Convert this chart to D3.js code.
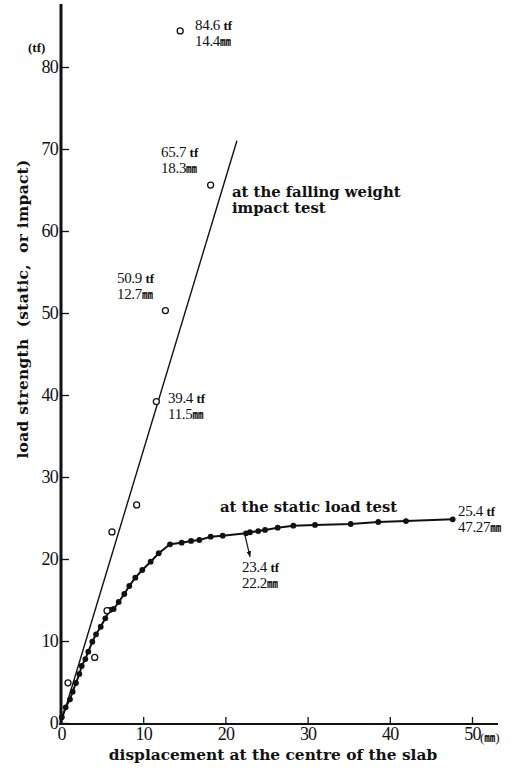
<!DOCTYPE html>
<meta charset="utf-8">
<html>
<head>
  <style>
    body { margin: 0; background: #fff; }
    svg { width: 515px; height: 768px; display: block; }
    text { font-family: 'Liberation Serif', 'Times New Roman', serif; fill: #111; }
    .note { font-size: 15px; }
    .unit { font-family: 'Noto Sans CJK JP', sans-serif; font-size: 11px; font-weight: bold; }
    .caption { font-family: 'DejaVu Serif', serif; font-size: 14.8px; font-weight: bold; }
  </style>
  <script src="https://d3js.org/d3.v7.min.js"></script>
</head>
<body>
  <svg></svg>
  <script>
    // displacement (mm) and load (tf), static load test
    var staticDisp = [0.1, 0.57, 1.09, 1.42, 1.82, 2.23, 2.52, 2.96, 3.32, 3.81, 4.26, 4.83, 5.39, 5.96, 6.4,
      7.02, 7.7, 8.31, 9.04, 9.89, 10.91, 11.89, 13.26, 14.68, 15.82, 16.83, 18.21, 19.67,
      22.51, 22.99, 24.0, 24.82, 26.36, 28.26, 30.9, 35.24, 38.6, 41.97, 47.65];
    var staticLoad = [0.7, 1.91, 2.89, 3.82, 4.88, 5.98, 6.95, 7.8, 8.7, 9.91, 10.82, 11.74, 12.77, 13.78, 13.9,
      14.76, 15.73, 16.71, 17.72, 18.66, 19.67, 20.7, 21.79, 21.99, 22.2, 22.32, 22.72, 22.84,
      23.13, 23.26, 23.41, 23.54, 23.82, 24.06, 24.15, 24.27, 24.51, 24.63, 24.84];

    // falling weight impact test
    var impactDisp = [0.85, 4.1, 5.6, 6.2, 9.2, 11.6, 12.7, 18.2, 14.5];
    var impactLoad = [4.9, 8.0, 13.7, 23.3, 26.6, 39.2, 50.3, 65.6, 84.4];

    // straight line drawn through the impact results
    var impactFitDisp = [0, 21.4];
    var impactFitLoad = [0, 71];

    var xTicks = [0, 10, 20, 30, 40, 50];
    var yTicks = [0, 10, 20, 30, 40, 50, 60, 70, 80];

    var svg = d3.select("svg");

    var x = d3.scaleLinear().domain([0, 50]).range([61, 472]);
    var y = d3.scaleLinear().domain([0, 80]).range([723, 67]);

    // axis lines, heavier than the ticks
    svg.append("line")
      .attr("x1", x(0)).attr("x2", x(0))
      .attr("y1", y(0) + 2).attr("y2", 4)
      .attr("stroke", "#111").attr("stroke-width", 3);
    svg.append("line")
      .attr("x1", x(0) - 2).attr("x2", 498)
      .attr("y1", y(0) + 1).attr("y2", y(0) + 1)
      .attr("stroke", "#111").attr("stroke-width", 2);

    // ticks point inward
    var yAxis = svg.append("g")
      .attr("transform", "translate(" + x(0) + ",0)")
      .call(d3.axisLeft(y).tickValues(yTicks).tickSize(-8).tickPadding(3));
    var xAxis = svg.append("g")
      .attr("transform", "translate(0," + (y(0) + 1) + ")")
      .call(d3.axisBottom(x).tickValues(xTicks).tickSize(-7).tickPadding(3));

    [yAxis, xAxis].forEach(function(a) {
      a.select(".domain").remove();
      a.attr("font-family", null).attr("font-size", null);
      a.selectAll(".tick line").attr("stroke", "#111").attr("stroke-width", 1.3);
      a.selectAll(".tick text")
        .attr("fill", "#111")
        .style("font-family", "'Liberation Serif', serif")
        .style("font-size", "18px")
        .style("letter-spacing", "-0.8px");
    });

    // unit labels
    svg.append("text")
      .attr("x", 28).attr("y", 52)
      .style("font-size", "13px").style("font-weight", "bold")
      .text("(tf)");
    var mm = svg.append("text")
      .attr("x", 480).attr("y", 742)
      .style("font-size", "13px");
    mm.append("tspan").text("(");
    mm.append("tspan").attr("class", "unit").text("㎜");
    mm.append("tspan").text(")");

    // axis titles
    svg.append("text")
      .attr("class", "caption")
      .attr("x", 273).attr("y", 760)
      .attr("text-anchor", "middle")
      .style("font-size", "15.4px")
      .text("displacement at the centre of the slab");

    svg.append("text")
      .attr("class", "caption")
      .attr("transform", "translate(28,309) rotate(-90)")
      .attr("text-anchor", "middle")
      .style("font-size", "15.4px")
      .style("letter-spacing", "0.3px")
      .text("load strength\u00a0 (static,\u00a0 or impact)");

    // impact fit line
    var line = d3.line()
      .x(function(d) { return x(d[0]); })
      .y(function(d) { return y(d[1]); });

    svg.append("path")
      .attr("d", line(d3.zip(impactFitDisp, impactFitLoad)))
      .attr("fill", "none")
      .attr("stroke", "#111")
      .attr("stroke-width", 1.4);

    // static curve
    svg.append("path")
      .attr("d", line(d3.zip(staticDisp, staticLoad)))
      .attr("fill", "none")
      .attr("stroke", "#111")
      .attr("stroke-width", 2);

    svg.append("g").selectAll("circle")
      .data(d3.zip(staticDisp, staticLoad))
      .enter().append("circle")
        .attr("cx", function(d) { return x(d[0]); })
        .attr("cy", function(d) { return y(d[1]); })
        .attr("r", 2.9)
        .attr("fill", "#111");

    svg.append("g").selectAll("circle")
      .data(d3.zip(impactDisp, impactLoad))
      .enter().append("circle")
        .attr("cx", function(d) { return x(d[0]); })
        .attr("cy", function(d) { return y(d[1]); })
        .attr("r", 3)
        .attr("fill", "#fff")
        .attr("stroke", "#111")
        .attr("stroke-width", 1.3);

    // value notes: [mm, tf] anchor of the first line, load text, displacement text
    var notes = [
      [16.3, 84.5, "84.6", "14.4"],
      [12.17, 69.0, "65.7", "18.3"],
      [6.81, 53.66, "50.9", "12.7"],
      [13.02, 39.0, "39.4", "11.5"],
      [48.3, 25.24, "25.4", "47.27"],
      [22.02, 18.41, "23.4", "22.2"]
    ];

    notes.forEach(function(n) {
      var t1 = svg.append("text").attr("class", "note")
        .attr("x", x(n[0])).attr("y", y(n[1]));
      t1.append("tspan").style("letter-spacing", "-0.3px").text(n[2] + " ");
      t1.append("tspan").style("font-weight", "bold").style("font-size", "13px").text("tf");
      var t2 = svg.append("text").attr("class", "note")
        .attr("x", x(n[0])).attr("y", y(n[1]) + 16);
      t2.append("tspan").style("letter-spacing", "-0.3px").text(n[3]);
      t2.append("tspan").attr("class", "unit").text("㎜");
    });

    // series captions
    svg.append("text").attr("class", "caption")
      .attr("x", x(20.8)).attr("y", y(64.1))
      .text("at the falling weight");
    svg.append("text").attr("class", "caption")
      .attr("x", x(20.8)).attr("y", y(64.1) + 16)
      .text("impact test");
    svg.append("text").attr("class", "caption")
      .attr("x", x(19.34)).attr("y", y(25.73))
      .text("at the static load test");

    // arrow from 22.2 mm point down to its note
    svg.append("defs").append("marker")
      .attr("id", "arr")
      .attr("viewBox", "0 0 10 10")
      .attr("refX", 9).attr("refY", 5)
      .attr("markerWidth", 5).attr("markerHeight", 6)
      .attr("orient", "auto")
      .append("path").attr("d", "M0,1 L10,5 L0,9 z").attr("fill", "#111");
    svg.append("line")
      .attr("x1", x(22.38)).attr("y1", y(22.9))
      .attr("x2", x(22.99)).attr("y2", y(20.3))
      .attr("stroke", "#111").attr("stroke-width", 1.2)
      .attr("marker-end", "url(#arr)");
  </script>
</body>
</html>
